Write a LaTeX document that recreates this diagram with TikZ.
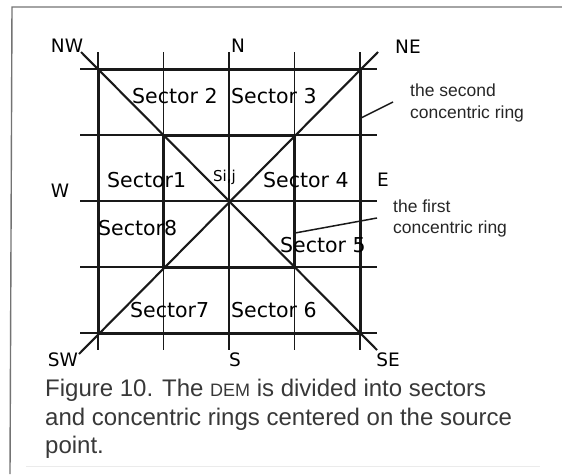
\documentclass[tikz,border=0pt]{standalone}
\usepackage{fontspec}
\setmainfont{Liberation Sans}
\newfontfamily\diagfont{DejaVu Sans}
\begin{document}
\begin{tikzpicture}[x=1pt,y=-1pt,
  gridline/.style={draw=black!90,line width=1.5pt},
  ringline/.style={draw=black!90,line width=3pt},
  diagline/.style={draw=black!90,line width=2.1pt},
  leader/.style={draw=black!90,line width=1.5pt},
  frameline/.style={draw=black!55,line width=1.4pt},
  compass/.style={inner sep=0pt,anchor=base,font=\diagfont\fontsize{18.5}{20}\selectfont},
  sectorlbl/.style={inner sep=0pt,anchor=base west,font=\diagfont\fontsize{20.5}{24}\selectfont},
  annot/.style={inner sep=0pt,anchor=base west,font=\fontsize{17.5}{20}\selectfont,text=black!85},
  captxt/.style={inner sep=0pt,anchor=base west,font=\fontsize{24}{28}\selectfont,text=black!78}]
\useasboundingbox (0,0) rectangle (562,474);
% frame
\draw[frameline] (562,7) -- (12,7) -- (10,474);
\draw[draw=black!8,line width=1pt] (26,466) -- (540,466);
% grid lines
\foreach \x in {98,163.5,229,294.5,360} \draw[gridline] (\x,52) -- (\x,350);
\foreach \y in {69,135,201,267,333} \draw[gridline] (80,\y) -- (377,\y);
% rings
\draw[ringline] (98,69) rectangle (360,333);
\draw[ringline] (163.5,135) rectangle (294.5,267);
% diagonals
\draw[diagline] (81,52) -- (377,350);
\draw[diagline] (378,52) -- (79,354);
% compass labels
\node[compass] (nw) at (67,52) {NW};
\node[compass] (n) at (238,52) {N};
\node[compass] (ne) at (408,53) {NE};
\node[compass] (w) at (60,197) {W};
\node[compass] (e) at (383,186) {E};
\node[compass] (sw) at (63,366) {SW};
\node[compass] (s) at (235,366) {S};
\node[compass] (se) at (388,366) {SE};
% sector labels
\node[sectorlbl] (s2) at (132,103) {Sector 2};
\node[sectorlbl] (s3) at (231,103) {Sector 3};
\node[sectorlbl] (s1) at (107,187) {Sector1};
\node[sectorlbl,font=\diagfont\fontsize{15}{17}\selectfont] (sij) at (213,181) {Si,j};
\node[sectorlbl] (s4) at (263,187) {Sector 4};
\node[sectorlbl] (s8) at (98,235) {Sector8};
\node[sectorlbl] (s5) at (280,252) {Sector 5};
\node[sectorlbl] (s7) at (130,317) {Sector7};
\node[sectorlbl] (s6) at (231,317) {Sector 6};
% annotations
\node[annot] (sec1) at (410,96) {the second};
\node[annot] (sec2) at (410,118) {concentric ring};
\node[annot] (fir1) at (393,212) {the first};
\node[annot] (fir2) at (393,233) {concentric ring};
\coordinate (r2a) at (361,118);
\coordinate (r2b) at (393,102);
\coordinate (r1a) at (295,233);
\coordinate (r1b) at (377,218);
\draw[leader] (r2a) -- (r2b);
\draw[leader] (r1a) -- (r1b);
% caption
\node[captxt] (cap1) at (45,396) {Figure 10. The {\fontsize{18}{20}\selectfont DEM} is divided into sectors};
\node[captxt] (cap2) at (45,425) {and concentric rings centered on the source};
\node[captxt] (cap3) at (45,453) {point.};
\end{tikzpicture}
\end{document}
